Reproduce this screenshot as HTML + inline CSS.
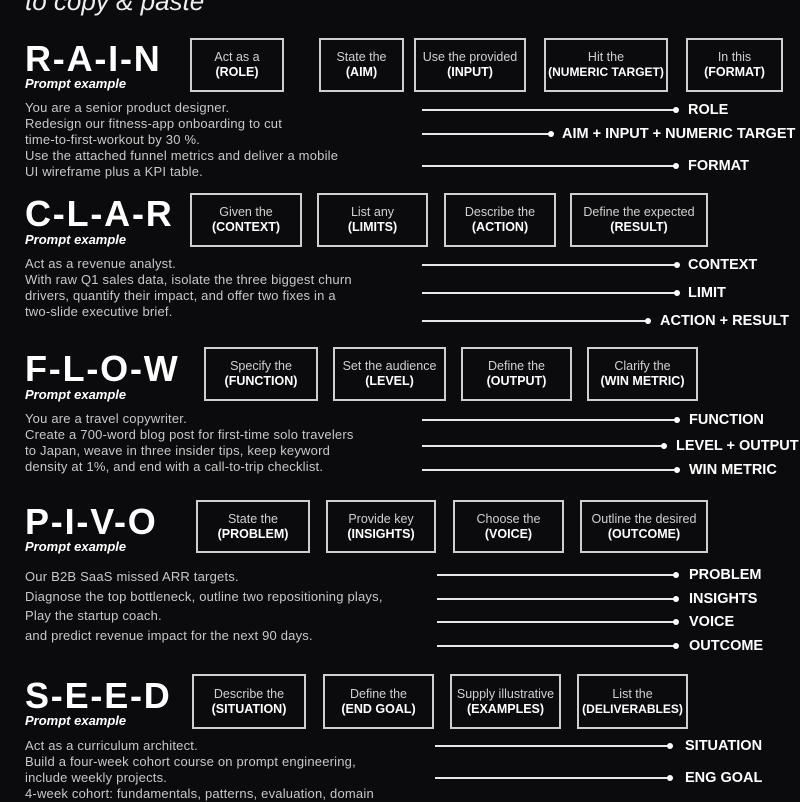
<!DOCTYPE html>
<html><head><meta charset="utf-8"><style>
*{margin:0;padding:0;box-sizing:border-box}
body{width:800px;height:800px;background:#0b0a0d;position:relative;overflow:hidden;font-family:"Liberation Sans",sans-serif;color:#fff}
.a{position:absolute;white-space:nowrap}
.h{font-size:36px;font-weight:bold;letter-spacing:1.8px;line-height:36px}
.pe{font-size:13px;font-weight:bold;font-style:italic;line-height:14px}
.t{font-size:13px;color:#c8c8c8;line-height:16px;letter-spacing:0.2px}
.b{position:absolute;border:2px solid #cfcfcf;text-align:center;font-size:12.5px;color:#d0d0d0;display:flex;flex-direction:column;justify-content:center;line-height:15px;white-space:nowrap;overflow:visible}
.b b{color:#fff;font-size:12.5px}
.l{position:absolute;height:2px;background:#e8e8e8}
.l:after{content:"";position:absolute;right:-3px;top:-2px;width:6px;height:6px;border-radius:50%;background:#fff}
.lb{position:absolute;font-size:14.5px;font-weight:bold;white-space:nowrap;line-height:16px}
</style></head><body>
<div class="a" style="left:25px;top:-14px;font-size:26px;font-style:italic;color:#eee">to copy &amp; paste</div>

<!-- RAIN -->
<div class="a h" style="left:25px;top:41px">R-A-I-N</div>
<div class="a pe" style="left:25px;top:77px">Prompt example</div>
<div class="a t" style="left:25px;top:100px">You are a senior product designer.<br>Redesign our fitness-app onboarding to cut<br>time-to-first-workout by 30 %.<br>Use the attached funnel metrics and deliver a mobile<br>UI wireframe plus a KPI table.</div>
<div class="b" style="left:190px;top:38px;width:94px;height:54px">Act as a<b>(ROLE)</b></div>
<div class="b" style="left:319px;top:38px;width:85px;height:54px">State the<b>(AIM)</b></div>
<div class="b" style="left:414px;top:38px;width:112px;height:54px">Use the provided<b>(INPUT)</b></div>
<div class="b" style="left:544px;top:38px;width:124px;height:54px">Hit the<b style="font-size:12px">(NUMERIC TARGET)</b></div>
<div class="b" style="left:686px;top:38px;width:97px;height:54px">In this<b>(FORMAT)</b></div>
<div class="l" style="left:422px;top:109px;width:254px"></div><div class="lb" style="left:688px;top:102px">ROLE</div>
<div class="l" style="left:422px;top:133px;width:129px"></div><div class="lb" style="left:562px;top:126px">AIM + INPUT + NUMERIC TARGET</div>
<div class="l" style="left:422px;top:165px;width:254px"></div><div class="lb" style="left:688px;top:158px">FORMAT</div>

<!-- CLAR -->
<div class="a h" style="left:25px;top:196px">C-L-A-R</div>
<div class="a pe" style="left:25px;top:233px">Prompt example</div>
<div class="a t" style="left:25px;top:256px">Act as a revenue analyst.<br>With raw Q1 sales data, isolate the three biggest churn<br>drivers, quantify their impact, and offer two fixes in a<br>two-slide executive brief.</div>
<div class="b" style="left:190px;top:193px;width:112px;height:54px">Given the<b>(CONTEXT)</b></div>
<div class="b" style="left:317px;top:193px;width:111px;height:54px">List any<b>(LIMITS)</b></div>
<div class="b" style="left:444px;top:193px;width:112px;height:54px">Describe the<b>(ACTION)</b></div>
<div class="b" style="left:570px;top:193px;width:138px;height:54px">Define the expected<b>(RESULT)</b></div>
<div class="l" style="left:422px;top:264px;width:255px"></div><div class="lb" style="left:688px;top:257px">CONTEXT</div>
<div class="l" style="left:422px;top:292px;width:255px"></div><div class="lb" style="left:688px;top:285px">LIMIT</div>
<div class="l" style="left:422px;top:320px;width:226px"></div><div class="lb" style="left:660px;top:313px">ACTION + RESULT</div>

<!-- FLOW -->
<div class="a h" style="left:25px;top:351px">F-L-O-W</div>
<div class="a pe" style="left:25px;top:388px">Prompt example</div>
<div class="a t" style="left:25px;top:411px">You are a travel copywriter.<br>Create a 700-word blog post for first-time solo travelers<br>to Japan, weave in three insider tips, keep keyword<br>density at 1%, and end with a call-to-trip checklist.</div>
<div class="b" style="left:204px;top:347px;width:114px;height:54px">Specify the<b>(FUNCTION)</b></div>
<div class="b" style="left:333px;top:347px;width:113px;height:54px">Set the audience<b>(LEVEL)</b></div>
<div class="b" style="left:461px;top:347px;width:111px;height:54px">Define the<b>(OUTPUT)</b></div>
<div class="b" style="left:587px;top:347px;width:111px;height:54px">Clarify the<b>(WIN METRIC)</b></div>
<div class="l" style="left:422px;top:419px;width:255px"></div><div class="lb" style="left:689px;top:412px">FUNCTION</div>
<div class="l" style="left:422px;top:445px;width:242px"></div><div class="lb" style="left:676px;top:438px">LEVEL + OUTPUT</div>
<div class="l" style="left:422px;top:469px;width:255px"></div><div class="lb" style="left:689px;top:462px">WIN METRIC</div>

<!-- PIVO -->
<div class="a h" style="left:25px;top:504px">P-I-V-O</div>
<div class="a pe" style="left:25px;top:540px">Prompt example</div>
<div class="a t" style="left:25px;top:567px;line-height:19.5px">Our B2B SaaS missed ARR targets.<br>Diagnose the top bottleneck, outline two repositioning plays,<br>Play the startup coach.<br>and predict revenue impact for the next 90 days.</div>
<div class="b" style="left:196px;top:500px;width:114px;height:53px">State the<b>(PROBLEM)</b></div>
<div class="b" style="left:326px;top:500px;width:110px;height:53px">Provide key<b>(INSIGHTS)</b></div>
<div class="b" style="left:453px;top:500px;width:111px;height:53px">Choose the<b>(VOICE)</b></div>
<div class="b" style="left:580px;top:500px;width:128px;height:53px">Outline the desired<b>(OUTCOME)</b></div>
<div class="l" style="left:437px;top:574px;width:239px"></div><div class="lb" style="left:689px;top:567px">PROBLEM</div>
<div class="l" style="left:437px;top:598px;width:239px"></div><div class="lb" style="left:689px;top:591px">INSIGHTS</div>
<div class="l" style="left:437px;top:621px;width:239px"></div><div class="lb" style="left:689px;top:614px">VOICE</div>
<div class="l" style="left:437px;top:645px;width:239px"></div><div class="lb" style="left:689px;top:638px">OUTCOME</div>

<!-- SEED -->
<div class="a h" style="left:25px;top:678px">S-E-E-D</div>
<div class="a pe" style="left:25px;top:714px">Prompt example</div>
<div class="a t" style="left:25px;top:738px">Act as a curriculum architect.<br>Build a four-week cohort course on prompt engineering,<br>include weekly projects.<br>4-week cohort: fundamentals, patterns, evaluation, domain</div>
<div class="b" style="left:192px;top:674px;width:114px;height:55px">Describe the<b>(SITUATION)</b></div>
<div class="b" style="left:323px;top:674px;width:111px;height:55px">Define the<b>(END GOAL)</b></div>
<div class="b" style="left:450px;top:674px;width:111px;height:55px">Supply illustrative<b>(EXAMPLES)</b></div>
<div class="b" style="left:577px;top:674px;width:111px;height:55px">List the<b style="font-size:12px">(DELIVERABLES)</b></div>
<div class="l" style="left:435px;top:745px;width:235px"></div><div class="lb" style="left:685px;top:738px">SITUATION</div>
<div class="l" style="left:435px;top:777px;width:235px"></div><div class="lb" style="left:685px;top:770px">ENG GOAL</div>
</body></html>
